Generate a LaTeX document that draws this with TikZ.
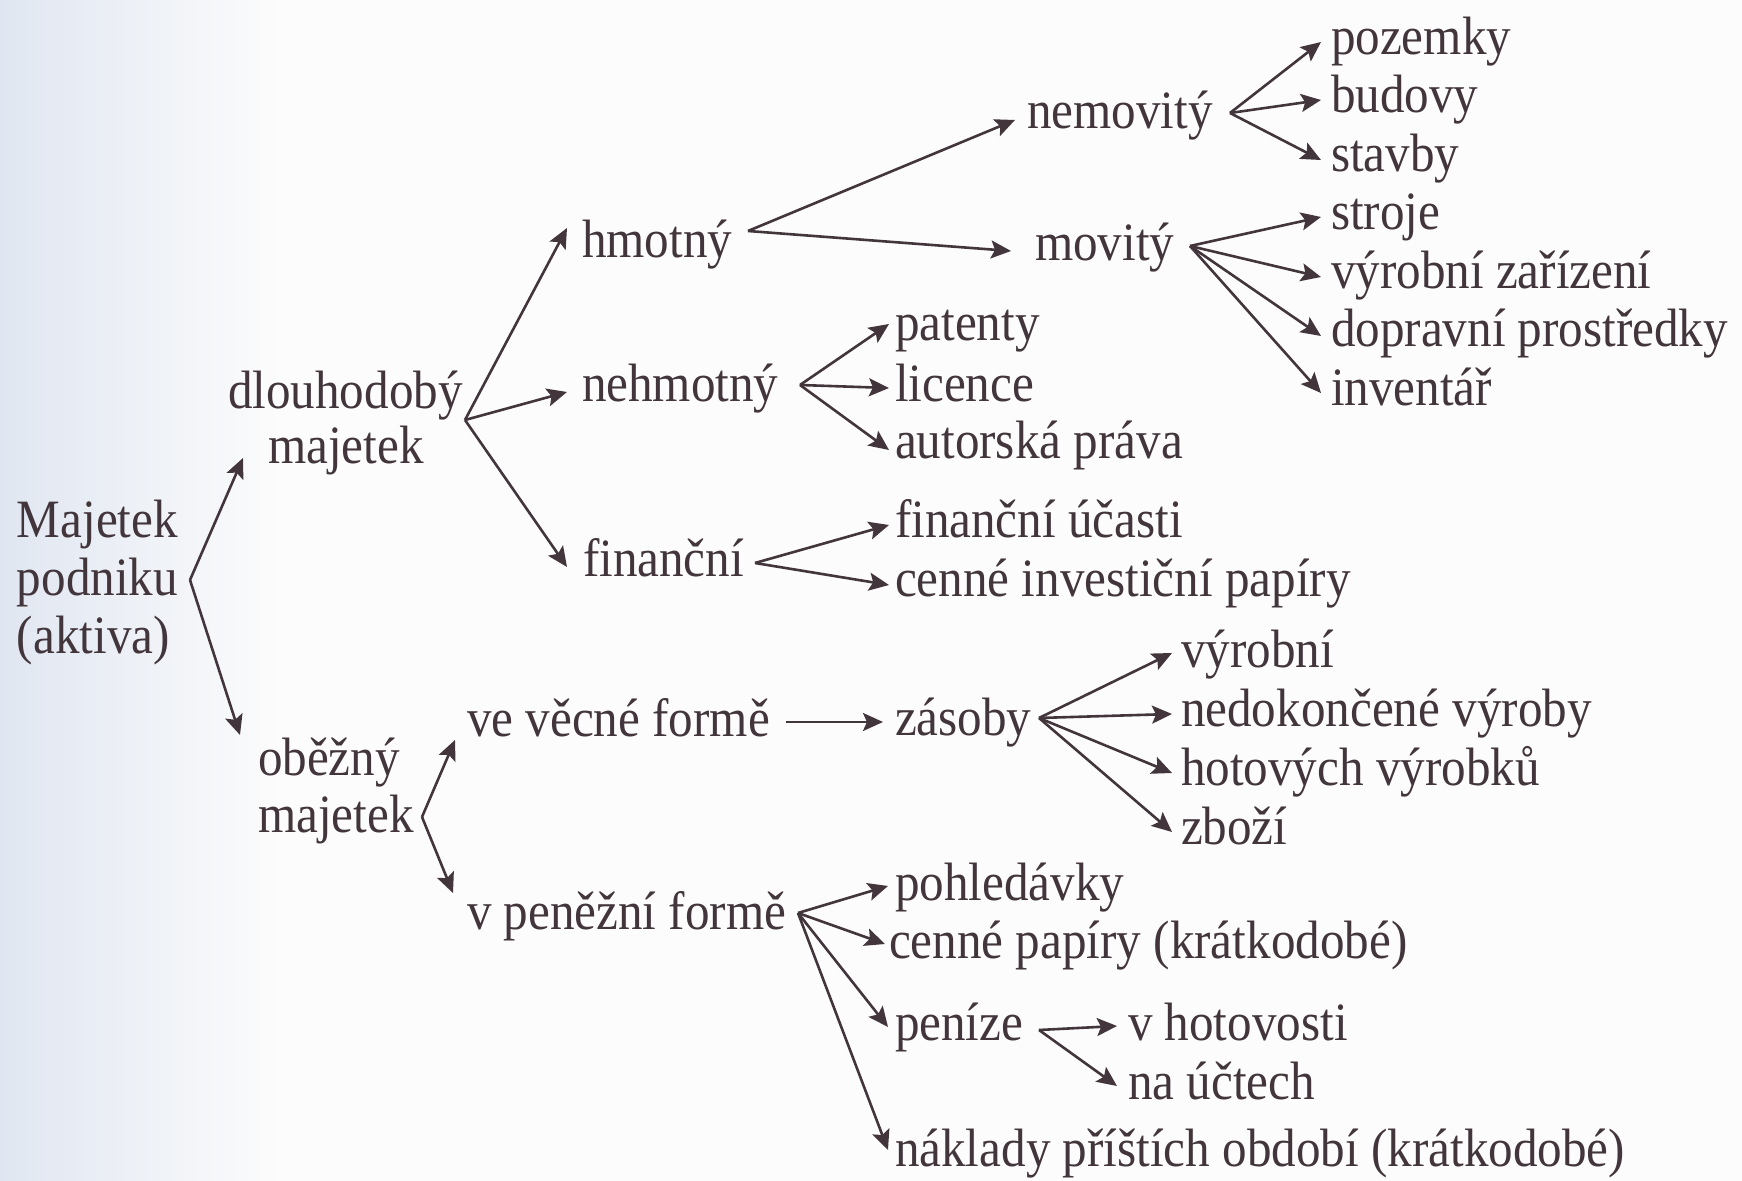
\documentclass[tikz,border=0pt]{standalone}
\usepackage{fontspec}
\setmainfont{Liberation Serif}[FakeStretch=0.91]
\usetikzlibrary{arrows.meta}
\definecolor{ink}{RGB}{66,54,60}
\definecolor{bgtint}{RGB}{224,230,241}
\definecolor{paper}{RGB}{252,252,252}
\begin{document}
\begin{tikzpicture}[x=0.5pt,y=-0.5pt,
  lbl/.style={anchor=base west, inner sep=0pt, outer sep=0pt, text=ink,
    font=\fontsize{27pt}{29pt}\selectfont},
  arr/.style={draw=ink, line width=1.3pt, line join=round,
    -{Stealth[length=10pt,width=9pt,inset=2pt]}}]
\useasboundingbox (0,0) rectangle (1742,1181);
\fill[paper] (0,0) rectangle (1742,1181);
\shade[left color=bgtint, right color=paper] (0,0) rectangle (280,1181);

% ---- text nodes ----
\node[lbl] (m1) at (17,538) {Majetek};
\node[lbl] (m2) at (17,596) {podniku};
\node[lbl] (m3) at (17,654) {(aktiva)};
\node[lbl] (dl) at (228,409) {dlouhodobý};
\node[lbl] (dlm) at (268,464) {majetek};
\node[lbl] (ob) at (258,776) {oběžný};
\node[lbl] (obm) at (258,833) {majetek};
\node[lbl] (hm) at (582,258) {hmotný};
\node[lbl] (nh) at (582,402) {nehmotný};
\node[lbl] (fi) at (583,577) {finanční};
\node[lbl] (nem) at (1027,129) {nemovitý};
\node[lbl] (mov) at (1035,261) {movitý};
\node[lbl] (poz) at (1331,55) {pozemky};
\node[lbl] (bud) at (1331,113) {budovy};
\node[lbl] (sta) at (1331,172) {stavby};
\node[lbl] (str) at (1331,230) {stroje};
\node[lbl] (vz) at (1331,289) {výrobní zařízení};
\node[lbl] (dp) at (1331,347) {dopravní prostředky};
\node[lbl] (inv) at (1331,406) {inventář};
\node[lbl] (pat) at (895,341) {patenty};
\node[lbl] (lic) at (895,402) {licence};
\node[lbl] (aut) at (895,459) {autorská práva};
\node[lbl] (fu) at (895,538) {finanční účasti};
\node[lbl] (cip) at (895,597) {cenné investiční papíry};
\node[lbl] (vv) at (467,737) {ve věcné formě};
\node[lbl] (zas) at (895,736) {zásoby};
\node[lbl] (vyr) at (1181,668) {výrobní};
\node[lbl] (ned) at (1181,727) {nedokončené výroby};
\node[lbl] (hot) at (1181,786) {hotových výrobků};
\node[lbl] (zbo) at (1181,845) {zboží};
\node[lbl] (vp) at (467,929) {v peněžní formě};
\node[lbl] (poh) at (895,901) {pohledávky};
\node[lbl] (cp) at (889,958) {cenné papíry (krátkodobé)};
\node[lbl] (pen) at (895,1040) {peníze};
\node[lbl] (hov) at (1128,1040) {v hotovosti};
\node[lbl] (nau) at (1128,1099) {na účtech};
\node[lbl] (nak) at (895,1166) {náklady příštích období (krátkodobé)};

% ---- branching points ----
\coordinate (aM) at (190,580);
\coordinate (aDl) at (465,420);
\coordinate (aOb) at (422,817);
\coordinate (aHm) at (748,231);
\coordinate (aNem) at (1230,113);
\coordinate (aMov) at (1190,246);
\coordinate (aNh) at (800,385);
\coordinate (aFi) at (755,563);
\coordinate (aZas) at (1039,718);
\coordinate (aVp) at (798,913);
\coordinate (aPen) at (1039,1030);

% ---- connectors ----
\draw[arr] (aM) -- ([shift={(-25,-6)}]dlm.base west);
\draw[arr] (aM) -- ([shift={(-18,-41)}]ob.base west);

\draw[arr] (aDl) -- ([shift={(-15,-30)}]hm.base west);
\draw[arr] (aDl) -- ([shift={(-15,-10)}]nh.base west);
\draw[arr] (aDl) -- ([shift={(-16,-10)}]fi.base west);

\draw[arr] (aOb) -- ([shift={(-12,3)}]vv.base west);
\draw[arr] (aOb) -- ([shift={(-14,-36)}]vp.base west);

\draw[arr] (aHm) -- ([shift={(-12,-9)}]nem.base west);
\draw[arr] (aHm) -- ([shift={(-24,-10)}]mov.base west);

\draw[arr] (aNem) -- ([shift={(-10,-13)}]poz.base west);
\draw[arr] (aNem) -- ([shift={(-10,-13)}]bud.base west);
\draw[arr] (aNem) -- ([shift={(-10,-12)}]sta.base west);

\draw[arr] (aMov) -- ([shift={(-10,-13)}]str.base west);
\draw[arr] (aMov) -- ([shift={(-10,-12)}]vz.base west);
\draw[arr] (aMov) -- ([shift={(-10,-11)}]dp.base west);
\draw[arr] (aMov) -- ([shift={(-10,-13)}]inv.base west);

\draw[arr] (aNh) -- ([shift={(-6,-17)}]pat.base west);
\draw[arr] (aNh) -- ([shift={(-6,-14)}]lic.base west);
\draw[arr] (aNh) -- ([shift={(-6,-9)}]aut.base west);

\draw[arr] (aFi) -- ([shift={(-6,-13)}]fu.base west);
\draw[arr] (aFi) -- ([shift={(-6,-12)}]cip.base west);

\draw[arr] ([shift={(16,-15)}]vv.base east) -- ([shift={(-12,-14)}]zas.base west);

\draw[arr] (aZas) -- ([shift={(-9,-15)}]vyr.base west);
\draw[arr] (aZas) -- ([shift={(-9,-13)}]ned.base west);
\draw[arr] (aZas) -- ([shift={(-9,-13)}]hot.base west);
\draw[arr] (aZas) -- ([shift={(-9,-13)}]zbo.base west);

\draw[arr] (aVp) -- ([shift={(-7,-15)}]poh.base west);
\draw[arr] (aVp) -- ([shift={(-4,-14)}]cp.base west);
\draw[arr] (aVp) -- ([shift={(-7,-13)}]pen.base west);
\draw[arr] (aVp) -- ([shift={(-7,-16)}]nak.base west);

\draw[arr] (aPen) -- ([shift={(-11,-14)}]hov.base west);
\draw[arr] (aPen) -- ([shift={(-11,-13)}]nau.base west);
\end{tikzpicture}
\end{document}
